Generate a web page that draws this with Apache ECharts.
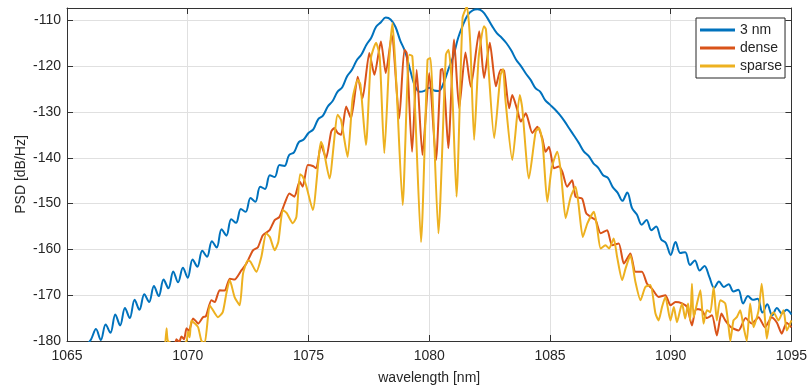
<!DOCTYPE html>
<html>
<head>
<meta charset="utf-8">
<script src="https://cdn.jsdelivr.net/npm/echarts@6/dist/echarts.min.js"></script>
<style>
  html, body { margin: 0; padding: 0; background: #fff; }
  #chart { width: 810px; height: 390px; }
</style>
</head>
<body>
<div id="chart"></div>
<script>
// blue curve, on a 0.2 nm grid starting at 1065.8
const blueStart = 1065.8
const blueStep = 0.2
const blueY = [
  -181.0, -179.6, -177.4, -179.8, -176.4, -178.2, -174.2, -176.6, -172.8, -175.0,
  -171.0, -173.2, -169.8, -171.5, -168.0, -170.2, -166.6, -168.5, -164.8, -167.2,
  -164.0, -166.2, -162.2, -163.8, -160.3, -161.6, -158.2, -159.6, -155.6, -157.0,
  -153.4, -154.2, -151.2, -151.8, -148.8, -149.6, -146.3, -146.8, -143.8, -144.2,
  -141.6, -141.8, -139.4, -138.8, -136.6, -136.0, -134.6, -133.8, -131.6, -130.8,
  -128.8, -127.6, -125.6, -124.6, -122.2, -120.8, -118.7, -117.4, -115.3, -113.8,
  -111.4, -110.4, -109.4, -109.8, -111.4, -114.4, -116.8, -120.6, -124.2, -125.6,
  -125.4, -124.7, -125.3, -125.4, -123.6, -120.6, -117.8, -113.8, -111.0, -108.8,
  -107.8, -107.6, -108.0, -109.4, -111.2, -112.8, -113.8, -115.0, -116.6, -118.6,
  -120.0, -121.6, -123.0, -124.8, -125.6, -127.4, -128.4, -129.4, -130.6, -132.0,
  -133.6, -135.2, -136.8, -138.6, -139.6, -141.2, -142.2, -143.8, -144.4, -146.4,
  -147.6, -149.4, -147.6, -151.0, -152.4, -154.6, -153.6, -155.8, -155.0, -157.8,
  -158.6, -161.2, -158.4, -160.8, -160.6, -163.4, -162.4, -164.6, -163.6, -166.0,
  -168.4, -167.0, -168.2, -167.6, -169.2, -168.8, -171.8, -170.2, -171.0, -170.8,
  -173.8, -172.0, -174.4, -172.8, -174.0, -173.2, -174.2
]

// dense: [wavelength, psd]
const dense = [
  [1069.45, -181.5], [1069.53, -179.6], [1069.65, -180.2], [1069.74, -179.0], [1069.85, -179.6],
  [1069.95, -177.2], [1070.05, -177.8], [1070.22, -175.1], [1070.33, -175.6], [1070.43, -176.2],
  [1070.63, -174.8], [1070.75, -174.6], [1070.98, -171.1], [1071.12, -171.5], [1071.32, -168.9],
  [1071.53, -169.0], [1071.74, -166.4], [1071.94, -166.6], [1072.22, -164.6], [1072.43, -163.1],
  [1072.7, -160.2], [1072.9, -159.6], [1073.11, -156.9], [1073.39, -155.8], [1073.6, -153.6],
  [1073.8, -152.9], [1074.01, -150.0], [1074.21, -147.8], [1074.42, -148.5], [1074.63, -145.2],
  [1074.76, -146.3], [1074.97, -141.6], [1075.18, -141.8], [1075.32, -142.3], [1075.52, -137.2],
  [1075.73, -140.1], [1075.94, -134.3], [1076.07, -133.5], [1076.21, -134.6], [1076.35, -135.0],
  [1076.56, -128.8], [1076.76, -131.4], [1077.04, -122.3], [1077.24, -127.0], [1077.52, -117.1],
  [1077.73, -121.9], [1078.0, -114.6], [1078.2, -121.5], [1078.45, -113.2], [1078.76, -131.4],
  [1078.97, -116.4], [1079.07, -117.2], [1079.29, -138.7], [1079.48, -120.8], [1079.72, -139.4],
  [1080.0, -121.5], [1080.28, -140.5], [1080.48, -120.8], [1080.56, -120.6], [1080.79, -137.9],
  [1081.03, -114.2], [1081.24, -129.2], [1081.5, -117.0], [1081.72, -124.5], [1082.07, -112.4],
  [1082.27, -122.6], [1082.51, -114.9], [1082.76, -124.4], [1082.96, -120.8], [1083.1, -121.0],
  [1083.31, -129.2], [1083.44, -126.3], [1083.65, -129.6], [1083.79, -132.1], [1084.0, -130.3],
  [1084.27, -134.6], [1084.48, -133.2], [1084.68, -135.7], [1084.82, -138.7], [1084.96, -137.6],
  [1085.17, -142.3], [1085.37, -141.9], [1085.51, -143.0], [1085.71, -146.3], [1085.92, -144.9],
  [1086.06, -148.5], [1086.33, -148.9], [1086.5, -152.1], [1086.68, -152.9], [1086.89, -153.6],
  [1087.1, -156.5], [1087.37, -155.8], [1087.57, -159.1], [1087.85, -158.7], [1088.06, -163.1],
  [1088.33, -160.9], [1088.54, -164.9], [1088.81, -164.9], [1089.02, -167.5], [1089.23, -168.6],
  [1089.5, -170.4], [1089.78, -170.0], [1089.99, -172.2], [1090.2, -171.5], [1090.47, -171.8],
  [1090.68, -172.6], [1090.88, -176.6], [1091.05, -173.0], [1091.29, -173.3], [1091.5, -175.0],
  [1091.71, -174.4], [1091.91, -178.8], [1092.1, -174.0], [1092.26, -175.5], [1092.5, -177.0],
  [1092.81, -177.7], [1093.1, -175.0], [1093.36, -176.2], [1093.64, -174.8], [1093.9, -177.0],
  [1094.19, -174.8], [1094.4, -176.0], [1094.6, -178.4], [1094.8, -176.0], [1095.0, -177.0]
]

// sparse: [wavelength, psd]
const sparse = [
  [1069.06, -181.5], [1069.12, -177.2], [1069.18, -180.0], [1069.4, -180.6], [1069.7, -181.0],
  [1069.95, -180.0], [1070.01, -178.0], [1070.08, -179.2], [1070.15, -175.5], [1070.3, -176.2],
  [1070.43, -177.0], [1070.57, -180.0], [1070.7, -180.5], [1070.91, -172.2], [1071.0, -172.9],
  [1071.25, -174.8], [1071.45, -173.7], [1071.6, -169.6], [1071.74, -166.7], [1071.94, -170.4],
  [1072.15, -172.2], [1072.29, -165.3], [1072.49, -162.4], [1072.6, -162.7], [1072.84, -164.9],
  [1073.05, -161.6], [1073.25, -156.5], [1073.4, -157.3], [1073.6, -160.2], [1073.75, -158.4],
  [1073.94, -151.4], [1074.1, -152.1], [1074.35, -154.3], [1074.5, -152.9], [1074.65, -143.6],
  [1074.75, -144.0], [1074.9, -146.0], [1075.18, -151.4], [1075.52, -136.5], [1075.6, -137.5],
  [1075.87, -144.5], [1076.21, -130.6], [1076.35, -131.8], [1076.62, -139.8], [1076.83, -127.0],
  [1077.04, -123.0], [1077.15, -124.0], [1077.38, -137.2], [1077.59, -118.2], [1077.8, -114.9],
  [1077.95, -118.0], [1078.14, -139.0], [1078.35, -118.0], [1078.48, -110.6], [1078.65, -125.0],
  [1078.9, -150.3], [1079.17, -117.5], [1079.3, -117.8], [1079.42, -130.0], [1079.66, -158.4],
  [1079.93, -118.6], [1080.05, -118.2], [1080.15, -128.0], [1080.38, -156.5], [1080.69, -117.5],
  [1080.8, -116.4], [1080.95, -125.0], [1081.13, -148.5], [1081.38, -109.5], [1081.56, -107.0],
  [1081.7, -115.0], [1081.86, -136.1], [1082.05, -118.0], [1082.27, -111.3], [1082.35, -112.0],
  [1082.45, -120.0], [1082.69, -135.7], [1082.95, -122.0], [1083.06, -120.6], [1083.15, -127.0],
  [1083.44, -140.5], [1083.75, -126.3], [1083.85, -129.0], [1084.13, -144.5], [1084.41, -134.3],
  [1084.55, -133.5], [1084.7, -137.0], [1084.89, -149.6], [1085.07, -142.3], [1085.3, -138.7],
  [1085.45, -143.0], [1085.65, -153.2], [1085.86, -148.5], [1086.06, -146.3], [1086.18, -150.0],
  [1086.36, -157.3], [1086.55, -154.3], [1086.82, -151.8], [1086.95, -155.1], [1087.1, -159.8],
  [1087.3, -159.1], [1087.45, -159.8], [1087.64, -157.6], [1087.78, -161.6], [1087.99, -166.7],
  [1088.13, -164.2], [1088.33, -161.3], [1088.54, -167.1], [1088.75, -171.1], [1088.95, -168.2],
  [1089.16, -167.8], [1089.37, -174.0], [1089.5, -175.5], [1089.64, -172.6], [1089.78, -170.4],
  [1089.99, -175.5], [1090.13, -172.6], [1090.26, -175.9], [1090.47, -171.8], [1090.6, -175.1],
  [1090.72, -171.8], [1090.81, -175.5], [1090.88, -167.5], [1090.95, -174.8], [1091.09, -171.8],
  [1091.23, -168.9], [1091.36, -176.2], [1091.5, -173.3], [1091.64, -173.7], [1091.78, -168.2],
  [1091.91, -175.5], [1092.05, -171.1], [1092.26, -171.8], [1092.4, -177.0], [1092.47, -180.0],
  [1092.6, -175.5], [1092.74, -174.8], [1092.88, -173.3], [1093.02, -177.0], [1093.15, -180.0],
  [1093.29, -171.8], [1093.43, -177.0], [1093.64, -173.3], [1093.77, -167.5], [1093.91, -175.5],
  [1093.98, -179.5], [1094.12, -174.8], [1094.26, -173.7], [1094.46, -175.5], [1094.67, -173.3],
  [1094.81, -177.7], [1095.0, -175.5]
]

const seriesNames = ['3 nm', 'dense', 'sparse']
const seriesColors = ['#0072bd', '#d95319', '#edb120']

;(function () {
  let myChart = echarts.init(document.getElementById('chart'))
  let font = 'Liberation Sans, Arial, Helvetica, sans-serif'
  let textColor = '#262626'
  let fs = 14

  let blue = blueY.map((v, i) => [+(blueStart + i * blueStep).toFixed(2), v])

  // only label the round ticks (the axis max is not a multiple of 10)
  let yLabel = v => (Math.abs(v % 10) < 1e-6 ? String(v) : '')

  let lineSeries = (name, data, color, smooth) => ({
    name: name,
    type: 'line',
    data: data,
    showSymbol: false,
    symbol: 'none',
    smooth: smooth,
    color: color,
    lineStyle: { width: 2, color: color },
    emphasis: { disabled: true },
    animation: false
  })

  let option = {
    animation: false,
    textStyle: { fontFamily: font },
    grid: { left: 67, right: 17, top: 8, bottom: 49 },
    legend: {
      orient: 'vertical',
      left: 696,
      top: 18,
      padding: [5, 3, 5, 4],
      itemGap: 4,
      itemWidth: 35,
      itemHeight: 3,
      icon: 'rect',
      borderColor: '#262626',
      borderWidth: 1,
      backgroundColor: '#fff',
      textStyle: { fontSize: fs, color: textColor, fontFamily: font },
      data: seriesNames
    },
    xAxis: [
      {
        type: 'value',
        min: 1065,
        max: 1095,
        interval: 5,
        name: 'wavelength [nm]',
        nameLocation: 'middle',
        nameGap: 30,
        nameTextStyle: { fontSize: fs, color: textColor },
        axisLine: { show: true, lineStyle: { color: '#333', width: 1 } },
        axisTick: { show: true, inside: true, length: 6, lineStyle: { color: '#333' } },
        axisLabel: { fontSize: fs, color: textColor, margin: 8, formatter: v => String(v) },
        splitLine: { show: true, lineStyle: { color: '#e0e0e0', width: 1 } }
      },
      {
        type: 'value',
        position: 'top',
        min: 1065,
        max: 1095,
        interval: 5,
        axisLine: { show: true, lineStyle: { color: '#333', width: 1 } },
        axisTick: { show: true, inside: true, length: 6, lineStyle: { color: '#333' } },
        axisLabel: { show: false },
        splitLine: { show: false }
      }
    ],
    yAxis: [
      {
        type: 'value',
        min: -180,
        max: -107.3,
        interval: 10,
        name: 'PSD [dB/Hz]',
        nameLocation: 'middle',
        nameGap: 39,
        nameMoveOverlap: false,
        nameTextStyle: { fontSize: fs, color: textColor },
        axisLine: { show: true, lineStyle: { color: '#333', width: 1 } },
        axisTick: { show: true, inside: true, length: 6, lineStyle: { color: '#333' } },
        axisLabel: { fontSize: fs, color: textColor, margin: 6, formatter: yLabel, showMaxLabel: false },
        splitLine: { show: true, lineStyle: { color: '#e0e0e0', width: 1 } }
      },
      {
        type: 'value',
        position: 'right',
        min: -180,
        max: -107.3,
        interval: 10,
        axisLine: { show: true, lineStyle: { color: '#333', width: 1 } },
        axisTick: { show: true, inside: true, length: 6, lineStyle: { color: '#333' } },
        axisLabel: { show: false },
        splitLine: { show: false }
      }
    ],
    series: [
      lineSeries(seriesNames[0], blue, seriesColors[0], 0.35),
      lineSeries(seriesNames[1], dense, seriesColors[1], 0.2),
      lineSeries(seriesNames[2], sparse, seriesColors[2], 0.2)
    ]
  }
  myChart.setOption(option)
})()
</script>
</body>
</html>
